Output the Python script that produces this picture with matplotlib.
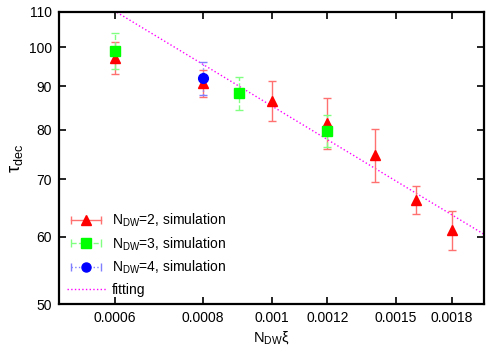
import numpy as np
import matplotlib
matplotlib.use("Agg")
import matplotlib.pyplot as plt
import matplotlib.ticker as mtick
from matplotlib.lines import Line2D
from matplotlib.legend_handler import HandlerLine2D, HandlerTuple

plt.rcParams["font.family"] = ["Liberation Sans", "DejaVu Sans"]
plt.rcParams["mathtext.fontset"] = "custom"
plt.rcParams["mathtext.rm"] = "Liberation Sans"
plt.rcParams["mathtext.it"] = "Liberation Sans"

# N_DW = 2
x2 = [0.0006, 0.0008, 0.001, 0.0012, 0.0014, 0.0016, 0.0018]
y2 = [97.2, 90.8, 86.6, 81.6, 74.8, 66.2, 61.1]
e2 = [4.2, 3.3, 4.6, 5.7, 5.3, 2.5, 3.2]

# N_DW = 3
x3 = [0.0006, 0.0009, 0.0012]
y3 = [99.0, 88.4, 79.8]
e3 = [4.8, 3.9, 3.5]

# N_DW = 4
x4 = [0.0008]
y4 = [92.0]
e4 = [4.0]

# fitting: tau = A * (N_DW xi)^(-b)
fit_A = 2.70
fit_b = 0.5

xticks = [0.0006, 0.0008, 0.001, 0.0012, 0.0015, 0.0018]
yticks = [50, 60, 70, 80, 90, 100, 110]

fig = plt.figure(figsize=(5.0, 3.5), dpi=100)
ax = fig.add_axes([0.118, 0.131, 0.850, 0.835])

series = [
    (x2, y2, e2, "^", "#ff0000", "#ff7070", "-", r"N$_{\rm DW}$=2, simulation"),
    (x3, y3, e3, "s", "#00ff00", "#80ff80", "--", r"N$_{\rm DW}$=3, simulation"),
    (x4, y4, e4, "o", "#0000ff", "#8080ff", ":", r"N$_{\rm DW}$=4, simulation"),
]

handles, labels, hmap = [], [], {}
for x, y, e, m, c, ec, ls, lab in series:
    eb = ax.errorbar(x, y, yerr=e, fmt="none", ecolor=ec, elinewidth=1.0,
                     capsize=3, capthick=1.0, zorder=2)
    eb[2][0].set_linestyle(ls)
    ax.plot(x, y, ls="none", marker=m, color=c, ms=7, mec=c, zorder=3)
    h_bar = Line2D([], [], color=ec, ls=ls, lw=1.0, marker="|", ms=6, mew=1.0)
    h_mk = Line2D([], [], ls="none", marker=m, color=c, ms=6.5)
    hmap[h_bar] = HandlerLine2D(numpoints=2)
    hmap[h_mk] = HandlerLine2D(numpoints=1)
    handles.append((h_bar, h_mk))
    labels.append(lab)

xf = np.geomspace(0.0005, 0.002, 200)
h_fit, = ax.plot(xf, fit_A * xf ** (-fit_b), color="#ff00ff", ls=":", lw=1.0, zorder=1)
handles.append(h_fit)
labels.append("fitting")
hmap[tuple] = HandlerTuple(ndivide=1, pad=0)

ax.set_xscale("log")
ax.set_yscale("log")
ax.set_xlim(0.0005, 0.002)
ax.set_ylim(50, 110)

ax.xaxis.set_minor_locator(mtick.NullLocator())
ax.yaxis.set_minor_locator(mtick.NullLocator())
ax.set_xticks(xticks)
ax.set_xticklabels([f"{v:g}" if v >= 0.001 else f"{v:.4f}" for v in xticks])
ax.set_yticks(yticks)
ax.set_yticklabels([str(v) for v in yticks])
ax.tick_params(which="both", direction="in", top=True, right=True,
               length=5, width=1.2, labelsize=10, pad=5)
for s in ax.spines.values():
    s.set_linewidth(1.6)

ax.set_xlabel(r"N$_{\rm DW}$ξ", fontsize=10.5, labelpad=3)
ax.set_ylabel(r"τ$_{\rm dec}$", fontsize=13, labelpad=3)

ax.legend(handles, labels, handler_map=hmap, loc="lower left",
          bbox_to_anchor=(0.0, 0.0), frameon=False, fontsize=10,
          handlelength=2.8, handletextpad=0.45, labelspacing=0.45,
          borderaxespad=0.2, borderpad=0.35)

fig.savefig("out.png", dpi=100)
